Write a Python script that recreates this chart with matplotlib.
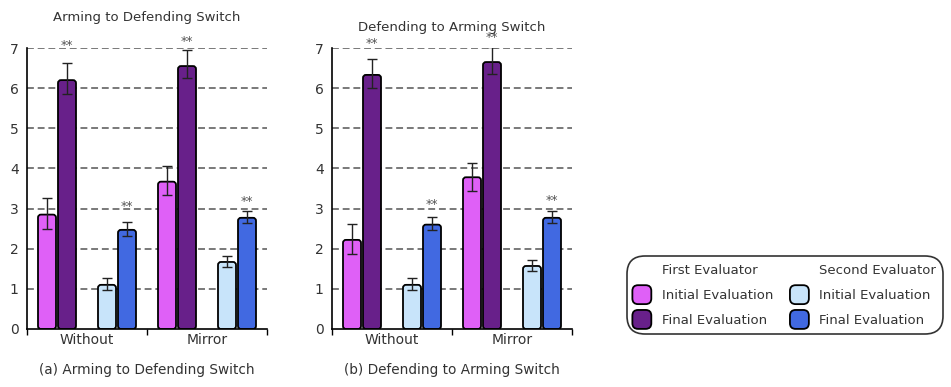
import matplotlib
matplotlib.use("Agg")
import matplotlib.pyplot as plt
from matplotlib.patches import FancyBboxPatch
from matplotlib.legend_handler import HandlerPatch
from matplotlib.patches import Rectangle

plt.rcParams['font.family'] = ['DejaVu Sans']

groups = ["Without", "Mirror"]
series = ["First Initial", "First Final", "Second Initial", "Second Final"]
colors = ["#DF60F7", "#68208A", "#C8E4FA", "#4169E1"]

# panel (a): Arming to Defending Switch
a_vals = {"Without": [2.85, 6.20, 1.10, 2.47], "Mirror": [3.67, 6.55, 1.67, 2.77]}
a_lo = {"Without": [2.48, 5.85, 0.97, 2.32], "Mirror": [3.33, 6.25, 1.55, 2.65]}
a_hi = {"Without": [3.27, 6.63, 1.28, 2.67], "Mirror": [4.05, 6.95, 1.83, 2.95]}
a_stars = {"Without": [None, 7.06, None, 3.06], "Mirror": [None, 7.16, None, 3.18]}

# panel (b): Defending to Arming Switch
b_vals = {"Without": [2.22, 6.33, 1.10, 2.60], "Mirror": [3.78, 6.65, 1.57, 2.77]}
b_lo = {"Without": [1.88, 6.00, 0.98, 2.47], "Mirror": [3.45, 6.35, 1.45, 2.65]}
b_hi = {"Without": [2.62, 6.73, 1.28, 2.78], "Mirror": [4.13, 7.02, 1.73, 2.95]}
b_stars = {"Without": [None, 7.10, None, 3.10], "Mirror": [None, 7.25, None, 3.20]}

offsets = [1/6, 2/6, 4/6, 5/6]
bar_w = 0.15

W, H = 951, 387
fig = plt.figure(figsize=(W/100, H/100), dpi=100)

def px_axes(x0, x1, y0, y1):
    return fig.add_axes([x0/W, 1 - y1/H, (x1-x0)/W, (y1-y0)/H])

def draw_panel(ax, vals, lo, hi, stars, title, title_y, caption):
    ax.set_xlim(0, 2)
    ax.set_ylim(0, 7)
    for yv in range(1, 8):
        ax.axhline(yv, color="#555555", lw=1.1, ls=(0, (4.5, 2.5)), zorder=0.5)
    bbox = ax.get_position()
    wpx = bbox.width * W
    hpx = bbox.height * H
    aspect = (7 / hpx) / (2 / wpx)
    for gi, g in enumerate(groups):
        xs = [gi + o for o in offsets]
        bars = ax.bar(xs, vals[g], width=bar_w, color=colors, zorder=2)
        for b, c in zip(bars, colors):
            x0, y0 = b.get_x(), b.get_y()
            w, h = b.get_width(), b.get_height()
            b.set_visible(False)
            r = 0.025
            p = FancyBboxPatch((x0, y0), w, h,
                               boxstyle=f"round,pad=0,rounding_size={r}",
                               mutation_aspect=aspect,
                               facecolor=c, edgecolor="black", lw=1.3, zorder=2)
            ax.add_patch(p)
        yerr = [[v - l for v, l in zip(vals[g], lo[g])],
                [h_ - v for v, h_ in zip(vals[g], hi[g])]]
        ax.errorbar(xs, vals[g], yerr=yerr, fmt="none", ecolor="#222222",
                    elinewidth=1.0, capsize=3.5, capthick=1.0, zorder=3)
        for x, s in zip(xs, stars[g]):
            if s is not None:
                ax.text(x, s, "**", ha="center", va="center", fontsize=9,
                        color="#555555", zorder=4)
    for sp in ["top", "right"]:
        ax.spines[sp].set_visible(False)
    for sp in ["left", "bottom"]:
        ax.spines[sp].set_linewidth(1.2)
        ax.spines[sp].set_zorder(5)
    ax.set_yticks(range(0, 8))
    ax.tick_params(axis="y", length=0, pad=6, labelsize=10, labelcolor="#333333")
    ax.set_xticks([0, 1, 2])
    ax.set_xticklabels([])
    ax.tick_params(axis="x", which="major", length=4, width=1.0, direction="out")
    ax.set_xticks([0.5, 1.5], minor=True)
    ax.set_xticklabels(groups, minor=True)
    ax.tick_params(axis="x", which="minor", length=0, pad=3, labelsize=10,
                   labelcolor="#333333")
    bb = ax.get_position()
    cx = bb.x0 + bb.width / 2
    fig.text(cx, 1 - title_y / H, title, ha="center", va="center",
             fontsize=9.5, color="#333333")
    fig.text(cx, 1 - 370 / H, caption, ha="center", va="center",
             fontsize=9.8, color="#333333")

ax1 = px_axes(27, 267, 48, 329)
ax2 = px_axes(332, 572, 48, 329)
draw_panel(ax1, a_vals, a_lo, a_hi, a_stars, "Arming to Defending Switch", 18,
           "(a) Arming to Defending Switch")
draw_panel(ax2, b_vals, b_lo, b_hi, b_stars, "Defending to Arming Switch", 28,
           "(b) Defending to Arming Switch")


class RoundHandler(HandlerPatch):
    def create_artists(self, legend, orig_handle, xdescent, ydescent, width,
                       height, fontsize, trans):
        s = min(width, height) * 1.4
        x = -xdescent + (width - s) / 2
        y = -ydescent + (height - s) / 2
        p = FancyBboxPatch((x, y), s, s,
                           boxstyle=f"round,pad=0,rounding_size={s*0.3}",
                           facecolor=orig_handle.get_facecolor(),
                           edgecolor="black", lw=1.3, transform=trans)
        return [p]


blank = Rectangle((0, 0), 1, 1, visible=False)
h = [blank,
     Rectangle((0, 0), 1, 1, facecolor=colors[0]),
     Rectangle((0, 0), 1, 1, facecolor=colors[1]),
     blank,
     Rectangle((0, 0), 1, 1, facecolor=colors[2]),
     Rectangle((0, 0), 1, 1, facecolor=colors[3])]
labels = ["First Evaluator", "Initial Evaluation", "Final Evaluation",
          "Second Evaluator", "Initial Evaluation", "Final Evaluation"]
hm = {hh: RoundHandler() for hh in h[1:3] + h[4:6]}
leg = fig.legend(h, labels, ncol=2, loc="center",
                 bbox_to_anchor=(785/W, 1 - 295/H), fontsize=9.5,
                 frameon=True, fancybox=True, handler_map=hm,
                 handlelength=1.2, handleheight=1.2, handletextpad=0.9,
                 columnspacing=1.4, labelspacing=0.8, borderpad=0.55,
                 borderaxespad=0)
for t in leg.get_texts():
    t.set_color("#333333")
fr = leg.get_frame()
fr.set_edgecolor("black")
fr.set_linewidth(1.2)
fr.set_boxstyle("round,pad=0,rounding_size=1.4")

fig.savefig("out.png", dpi=100)
